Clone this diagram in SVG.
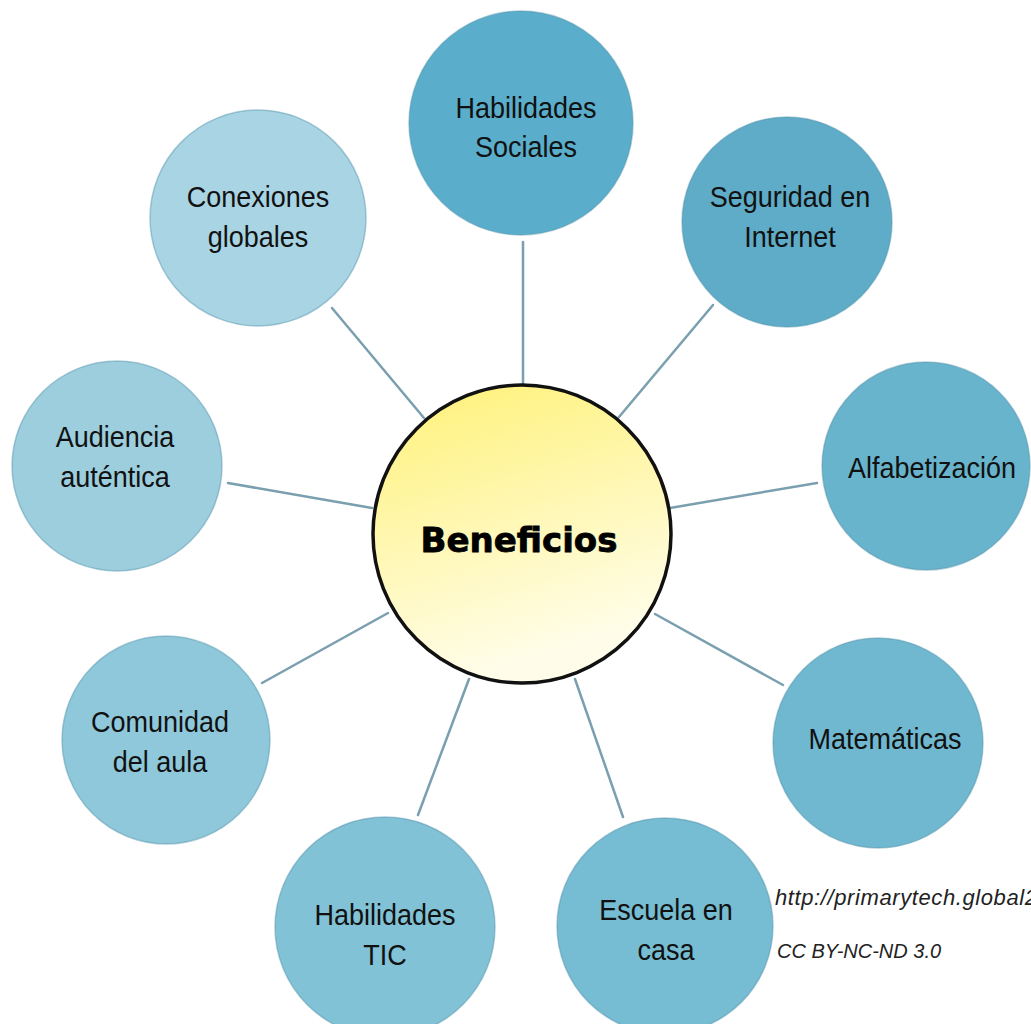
<svg xmlns="http://www.w3.org/2000/svg" width="1031" height="1024" viewBox="0 0 1031 1024">
  <defs>
    <linearGradient id="yellow" x1="0" y1="0" x2="0.3" y2="1">
      <stop offset="0" stop-color="#fff176"/>
      <stop offset="1" stop-color="#fffdea"/>
    </linearGradient>
    <style>
      .lbl { font-family: "Liberation Sans", Arial, sans-serif; font-size: 30px; fill: #111; text-anchor: middle; }
      .node { stroke: #4f90a8; stroke-opacity: 0.45; stroke-width: 1.5; }
      .conn line { stroke: #7a9fae; stroke-width: 2.5; stroke-linecap: round; }
      .credit { font-family: "Liberation Sans", Arial, sans-serif; font-style: italic; fill: #222; }
    </style>
  </defs>
  <rect width="1031" height="1024" fill="#ffffff"/>

  <g id="connectors" class="conn">
    <line x1="523" y1="242" x2="523" y2="384"/>
    <line x1="713" y1="305" x2="619" y2="417"/>
    <line x1="817" y1="483" x2="670" y2="508"/>
    <line x1="783" y1="685" x2="655" y2="614"/>
    <line x1="623" y1="817" x2="575" y2="679"/>
    <line x1="418" y1="815" x2="469" y2="679"/>
    <line x1="262" y1="683" x2="388" y2="613"/>
    <line x1="228" y1="483" x2="372" y2="508"/>
    <line x1="332" y1="308" x2="424" y2="418"/>
  </g>

  <g id="node-habilidades-sociales">
    <circle class="node" cx="521" cy="123" r="112" fill="#5aaecb"/>
    <text class="lbl" x="526" y="118" transform="matrix(0.9 0 0 1 52.6 0)">Habilidades</text>
    <text class="lbl" x="526" y="157" transform="matrix(0.9 0 0 1 52.6 0)">Sociales</text>
  </g>
  <g id="node-seguridad">
    <circle class="node" cx="787" cy="222" r="105" fill="#5eacc8"/>
    <text class="lbl" x="790" y="207" transform="matrix(0.9 0 0 1 79 0)">Seguridad en</text>
    <text class="lbl" x="790" y="247" transform="matrix(0.9 0 0 1 79 0)">Internet</text>
  </g>
  <g id="node-alfabetizacion">
    <circle class="node" cx="926" cy="466" r="104" fill="#68b4cc"/>
    <text class="lbl" x="932" y="478" transform="matrix(0.9 0 0 1 93.2 0)">Alfabetización</text>
  </g>
  <g id="node-matematicas">
    <circle class="node" cx="878" cy="743" r="105" fill="#70b8d0"/>
    <text class="lbl" x="885" y="749" transform="matrix(0.9 0 0 1 88.5 0)">Matemáticas</text>
  </g>
  <g id="node-escuela">
    <circle class="node" cx="665" cy="926" r="108" fill="#76bcd2"/>
    <text class="lbl" x="666" y="920" transform="matrix(0.9 0 0 1 66.6 0)">Escuela en</text>
    <text class="lbl" x="666" y="960" transform="matrix(0.9 0 0 1 66.6 0)">casa</text>
  </g>
  <g id="node-habilidades-tic">
    <circle class="node" cx="385" cy="927" r="110" fill="#82c2d6"/>
    <text class="lbl" x="385" y="925" transform="matrix(0.9 0 0 1 38.5 0)">Habilidades</text>
    <text class="lbl" x="385" y="965" transform="matrix(0.9 0 0 1 38.5 0)">TIC</text>
  </g>
  <g id="node-comunidad">
    <circle class="node" cx="166" cy="740" r="104" fill="#8ec8da"/>
    <text class="lbl" x="160" y="732" transform="matrix(0.9 0 0 1 16 0)">Comunidad</text>
    <text class="lbl" x="160" y="772" transform="matrix(0.9 0 0 1 16 0)">del aula</text>
  </g>
  <g id="node-audiencia">
    <circle class="node" cx="117" cy="466" r="105" fill="#9ccede"/>
    <text class="lbl" x="115" y="447" transform="matrix(0.9 0 0 1 11.5 0)">Audiencia</text>
    <text class="lbl" x="115" y="487" transform="matrix(0.9 0 0 1 11.5 0)">auténtica</text>
  </g>
  <g id="node-conexiones">
    <circle class="node" cx="258" cy="218" r="108" fill="#a8d4e4"/>
    <text class="lbl" x="258" y="207" transform="matrix(0.9 0 0 1 25.8 0)">Conexiones</text>
    <text class="lbl" x="258" y="247" transform="matrix(0.9 0 0 1 25.8 0)">globales</text>
  </g>

  <g id="node-beneficios">
    <circle cx="522" cy="534" r="149" fill="url(#yellow)" stroke="#111" stroke-width="3.5"/>
    <text x="519" y="552" font-family="'DejaVu Sans', 'Liberation Sans', sans-serif" font-weight="bold" font-size="34" fill="#000" text-anchor="middle" stroke="#000" stroke-width="0.8">Beneficios</text>
  </g>

  <g id="credits">
    <text class="credit" x="775" y="905" font-size="22" textLength="262" lengthAdjust="spacing">http://primarytech.global2</text>
    <text class="credit" x="777" y="958" font-size="20">CC BY-NC-ND 3.0</text>
  </g>
</svg>
